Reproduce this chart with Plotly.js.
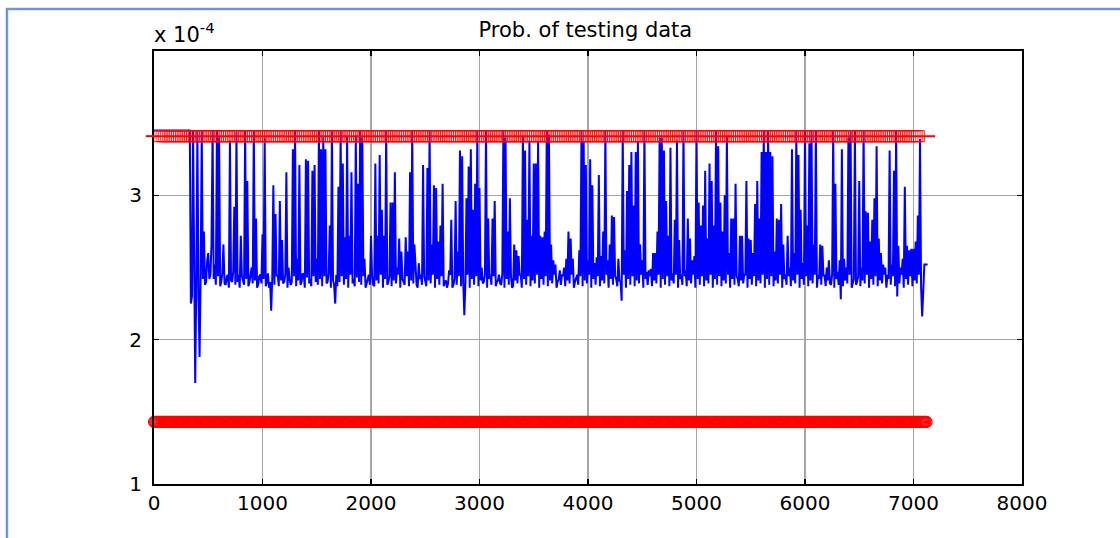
<!DOCTYPE html>
<html>
<head>
<meta charset="utf-8">
<script src="https://cdn.plot.ly/plotly-3.0.1.min.js"></script>
<style>
  html, body { margin: 0; padding: 0; background: #ffffff; }
  #chart { width: 1120px; height: 538px; }
</style>
</head>
<body>
<div id="chart"></div>
<script>
// ---- data (probability values in units of 1e-4) ----
const chartTitle = "Prob. of testing data";
const sampleStep = 10;           // sample spacing of the stored blue series
const xTickVals = [0, 1000, 2000, 3000, 4000, 5000, 6000, 7000, 8000];
const yTickVals = [1, 2, 3];
const upperThreshold = 3.41;     // red upper line (x 1e-4)
const lowerThreshold = 1.43;     // red lower line (x 1e-4)
const upperStart = 50, upperEnd = 7050;
const lowerStart = 0, lowerEnd = 7120;

const blueProb = [
  3.45,3.45,3.45,3.45,3.45,3.45,3.45,3.45,3.45,3.45,3.45,3.45,3.45,3.45,3.45,3.45,3.45,
  3.45,3.45,3.45,3.45,3.45,3.45,3.45,3.45,3.45,3.45,3.45,3.45,3.45,3.45,3.45,3.45,3.45,
  2.25,2.30, 3.45,2.25, 1.70,2.40, 3.45,2.30, 1.88,2.45, 3.45,2.42, 2.75,2.38, 2.40,2.55, 2.60,2.42, 2.45,2.66,
  3.45,2.42, 2.52,2.38, 3.45,2.44, 3.40,2.37, 2.40,2.46, 2.66,2.39, 2.38,2.43, 2.45,2.36, 3.38,2.41, 2.40,2.47,
  2.92,2.38, 3.44,2.40, 2.45,2.36, 2.72,2.44, 2.40,2.38, 3.45,2.42, 3.10,2.37, 2.40,2.45, 2.50,2.39, 3.45,2.41,
  2.84,2.36, 2.38,2.44, 2.45,2.39, 2.73,2.42, 3.40,2.37, 2.40,2.46, 2.36,2.40, 2.20,2.43, 3.07,2.38, 2.87,2.44,
  2.45,2.37, 2.96,2.41, 2.69,2.39, 2.40,2.45, 3.16,2.36, 2.50,2.42, 2.38,2.40, 3.32,2.44, 3.45,2.37, 2.56,2.41,
  3.21,2.38, 2.40,2.46, 2.45,2.36, 3.25,2.43, 3.24,2.39, 2.42,2.37, 3.17,2.44, 3.21,2.40, 2.56,2.38, 3.45,2.42,
  3.32,2.37, 3.40,2.44, 3.32,2.39, 2.40,2.46, 2.79,2.36, 3.45,2.41, 2.38,2.25, 2.45,2.37, 3.06,2.40, 3.45,2.44,
  3.22,2.38, 2.71,2.42, 3.41,2.36, 2.72,2.45, 3.16,2.39, 2.42,2.37, 3.41,2.43, 3.08,2.40, 3.45,2.38, 3.40,2.44,
  2.56,2.36, 2.40,2.42, 2.45,2.38, 2.72,2.44, 2.38,2.37, 3.22,2.41, 2.72,2.39, 3.28,2.45, 2.90,2.36, 2.72,2.42,
  3.45,2.38, 2.40,2.44, 2.95,2.37, 2.95,2.41, 3.16,2.39, 2.50,2.45, 2.70,2.36, 2.61,2.42, 2.40,2.38, 2.71,2.44,
  2.61,2.37, 3.16,2.41, 3.45,2.39, 2.66,2.45, 2.38,2.36, 2.53,2.42, 2.45,2.38, 3.21,2.44, 2.40,2.37, 3.19,2.41,
  3.45,2.39, 2.66,2.45, 3.07,2.36, 3.05,2.42, 2.68,2.38, 2.79,2.44, 3.08,2.37, 2.40,2.41, 2.36,2.39, 2.48,2.45,
  2.83,2.36, 2.38,2.42, 2.96,2.38, 2.61,2.44, 3.31,2.37, 3.27,2.41, 2.17,2.39, 2.98,2.45, 3.20,2.36, 3.32,2.42,
  2.90,2.38, 3.08,2.44, 3.45,2.37, 3.05,2.41, 2.50,2.39, 2.40,2.45, 3.45,2.36, 2.84,2.42, 2.45,2.38, 2.84,2.44,
  2.96,2.37, 2.40,2.41, 2.45,2.39, 2.38,2.45, 3.45,2.36, 3.40,2.42, 2.75,2.38, 2.98,2.44, 2.36,2.37, 2.66,2.41,
  2.62,2.39, 2.58,2.45, 2.45,2.36, 3.41,2.42, 3.31,2.38, 2.83,2.44, 3.38,2.37, 2.72,2.41, 3.22,2.39, 3.22,2.45,
  3.37,2.36, 2.72,2.42, 2.71,2.38, 2.75,2.44, 3.45,2.37, 3.42,2.41, 2.66,2.39, 2.55,2.45, 2.52,2.36, 2.40,2.42,
  2.48,2.38, 2.45,2.44, 2.50,2.37, 2.56,2.41, 2.75,2.39, 2.70,2.45, 2.56,2.36, 2.40,2.42, 2.45,2.38, 2.62,2.44,
  3.45,2.37, 3.37,2.41, 3.21,2.39, 2.55,2.45, 3.25,2.36, 3.07,2.42, 2.53,2.38, 2.57,2.44, 3.14,2.37, 2.58,2.41,
  2.75,2.39, 3.45,2.45, 2.55,2.36, 2.66,2.42, 2.86,2.38, 2.85,2.44, 2.42,2.37, 2.56,2.41, 2.40,2.27, 3.45,2.45,
  2.62,2.36, 3.03,2.42, 3.21,2.38, 3.30,2.44, 2.93,2.37, 3.30,2.41, 3.37,2.39, 2.66,2.45, 2.55,2.36, 3.45,2.42,
  2.47,2.38, 2.48,2.44, 2.49,2.37, 2.60,2.41, 2.60,2.39, 2.75,2.45, 3.40,2.36, 3.40,2.42, 3.31,2.38, 2.96,2.44,
  2.72,2.37, 3.33,2.41, 2.46,2.39, 2.83,2.45, 3.38,2.36, 2.69,2.42, 2.45,2.38, 3.45,2.44, 2.48,2.37, 2.84,2.41,
  2.70,2.39, 2.55,2.45, 2.58,2.36, 3.45,2.42, 2.95,2.38, 2.79,2.44, 2.93,2.37, 3.17,2.41, 2.70,2.39, 3.22,2.45,
  3.10,2.36, 2.79,2.42, 3.45,2.38, 3.34,2.44, 2.95,2.37, 2.75,2.41, 3.00,2.39, 3.41,2.45, 2.60,2.36, 2.84,2.42,
  2.84,2.38, 3.08,2.44, 2.42,2.37, 2.72,2.41, 2.72,2.39, 2.45,2.45, 3.10,2.36, 2.70,2.42, 2.69,2.38, 2.60,2.44,
  2.94,2.37, 3.10,2.41, 2.84,2.39, 3.30,2.45, 3.45,2.36, 3.30,2.42, 3.45,2.38, 3.30,2.44, 3.27,2.37, 2.61,2.41,
  2.84,2.39, 2.83,2.45, 2.94,2.36, 2.66,2.42, 2.45,2.38, 2.72,2.44, 2.50,2.37, 3.32,2.41, 2.60,2.39, 3.45,2.45,
  3.28,2.36, 2.90,2.42, 2.53,2.38, 3.45,2.44, 2.79,2.37, 3.36,2.41, 3.45,2.39, 2.66,2.45, 3.45,2.36, 2.45,2.42,
  2.66,2.38, 2.65,2.44, 2.45,2.37, 2.50,2.41, 2.55,2.39, 2.38,2.45, 3.45,2.36, 3.08,2.42, 2.47,2.38, 2.55,2.28,
  3.32,2.37, 2.56,2.41, 2.50,2.39, 3.40,2.45, 3.44,2.36, 2.40,2.42, 3.45,2.38, 2.40,2.44, 3.10,2.37, 2.50,2.41,
  3.45,2.39, 2.89,2.45, 2.88,2.36, 2.68,2.42, 2.83,2.38, 2.98,2.44, 3.34,2.37, 2.70,2.41, 2.60,2.39, 2.52,2.45,
  2.50,2.36, 2.45,2.42, 3.31,2.38, 2.52,2.44, 3.17,2.37, 3.45,2.30, 2.65,2.39, 2.50,2.45, 2.56,2.36, 3.06,2.42,
  2.65,2.38, 2.62,2.44, 2.63,2.37, 2.63,2.41, 2.68,2.39, 2.86,2.45, 3.39,2.36, 2.16,2.42, 2.52,2.52, 2.52,2.52
];

// ---- build traces ----
const blueX = blueProb.map((_, i) => i * sampleStep);

const upperX = [], upperY = [];
for (let x = upperStart; x <= upperEnd; x += 20) { upperX.push(x); upperY.push(upperThreshold); }
const lowerX = [], lowerY = [];
for (let x = lowerStart; x <= lowerEnd; x += 10) { lowerX.push(x); lowerY.push(lowerThreshold); }

const traces = [
  {
    x: blueX, y: blueProb, type: 'scatter', mode: 'lines',
    line: { color: '#0000ff', width: 2 }, hoverinfo: 'skip'
  },
  {
    x: upperX, y: upperY, type: 'scatter', mode: 'markers', cliponaxis: false,
    marker: { symbol: 'square-open', size: 11, color: 'rgba(255,0,0,0.7)', line: { width: 1.1 } },
    hoverinfo: 'skip'
  },
  {
    x: [0, 7200], y: [upperThreshold, upperThreshold], type: 'scatter', mode: 'lines',
    line: { color: '#ff0000', width: 2 }, hoverinfo: 'skip'
  },
  {
    x: lowerX, y: lowerY, type: 'scatter', mode: 'markers', cliponaxis: false,
    marker: { symbol: 'circle-open', size: 11, color: '#ff0000', line: { width: 1.2 } },
    hoverinfo: 'skip'
  }
];

const fontFam = 'DejaVu Sans, Liberation Sans, Arial, sans-serif';
const axisFont = { family: fontFam, size: 20, color: '#000000' };

const layout = {
  width: 1120, height: 538,
  margin: { l: 154, r: 98, t: 51, b: 54 },
  paper_bgcolor: '#ffffff', plot_bgcolor: '#ffffff',
  showlegend: false,
  title: {
    text: chartTitle, x: 0.497, xref: 'paper', y: 0.944, yanchor: 'middle',
    font: { family: fontFam, size: 21, color: '#000000' }
  },
  xaxis: {
    range: [0, 8000], tickvals: xTickVals, ticktext: xTickVals.map(String),
    showgrid: true, gridcolor: '#a6a6a6', gridwidth: 1.5, zeroline: false,
    showline: true, linecolor: '#000000', linewidth: 2, mirror: 'allticks',
    ticks: 'inside', ticklen: 5, tickwidth: 1.5, tickcolor: '#000000',
    tickfont: axisFont, ticklabelstandoff: 0
  },
  yaxis: {
    range: [1, 4], tickvals: yTickVals, ticktext: yTickVals.map(String),
    showgrid: true, gridcolor: '#a6a6a6', gridwidth: 1.5, zeroline: false,
    showline: true, linecolor: '#000000', linewidth: 2, mirror: 'allticks',
    ticks: 'inside', ticklen: 5, tickwidth: 1.5, tickcolor: '#000000',
    tickfont: axisFont, ticklabelstandoff: 6
  },
  annotations: [
    {
      text: 'x 10<sup>-4</sup>', xref: 'paper', yref: 'paper', x: -0.002, y: 1.005,
      xanchor: 'left', yanchor: 'bottom', showarrow: false,
      font: { family: fontFam, size: 21, color: '#000000' }
    }
  ],
  shapes: [
    {
      type: 'rect', xref: 'paper', yref: 'paper',
      x0: -0.1694, x1: 1.125, y0: -0.145, y1: 1.097,
      line: { color: '#7096cf', width: 2.5 }, fillcolor: 'rgba(0,0,0,0)', layer: 'below'
    },
    {
      type: 'line', xref: 'paper', yref: 'y',
      x0: -0.0095, x1: 0, y0: upperThreshold, y1: upperThreshold,
      line: { color: '#ff0000', width: 2 }
    }
  ]
};

Plotly.newPlot('chart', traces, layout, { staticPlot: true, displayModeBar: false });
</script>
</body>
</html>
